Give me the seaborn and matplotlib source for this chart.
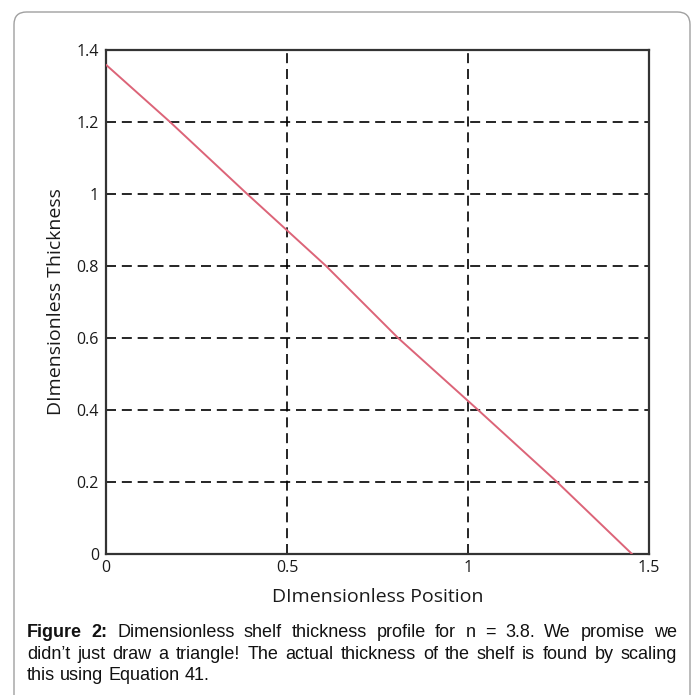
import matplotlib
matplotlib.use("Agg")
import matplotlib.pyplot as plt
import seaborn as sns
import pandas as pd
from matplotlib.patches import FancyBboxPatch

# ---- data ----
position = [0.0, 0.177, 0.39, 0.608, 0.807, 1.028, 1.246, 1.453]
thickness = [1.359, 1.2, 1.0, 0.8, 0.6, 0.4, 0.2, 0.0]
x_ticks = [0, 0.5, 1, 1.5]
x_tick_labels = ["0", "0.5", "1", "1.5"]
y_ticks = [0, 0.2, 0.4, 0.6, 0.8, 1.0, 1.2, 1.4]
y_tick_labels = ["0", "0.2", "0.4", "0.6", "0.8", "1", "1.2", "1.4"]
x_label = "DImensionless Position"
y_label = "DImensionless Thickness"
caption_lines = [
    "Figure 2: Dimensionless shelf thickness profile for n = 3.8. We promise we",
    "didn\u2019t just draw a triangle! The actual thickness of the shelf is found by scaling",
    "this using Equation 41.",
]

df = pd.DataFrame({"pos": position, "thick": thickness})

sns.set_style("white")
W, H = 699, 695
fig = plt.figure(figsize=(W / 100, H / 100), dpi=100)
fig.patch.set_facecolor("white")

# outer rounded frame
frame = FancyBboxPatch((14 / W, -20 / H), (690 - 14) / W, (H - 12 + 20) / H,
                       boxstyle="round,pad=0,rounding_size=0.018",
                       transform=fig.transFigure, facecolor="none",
                       edgecolor="#a0a0a0", linewidth=1.0, zorder=-1)
fig.patches.append(frame)

ax = fig.add_axes([106 / W, (H - 554) / H, 543 / W, 504 / H])
ax.set_facecolor("white")
sns.lineplot(data=df, x="pos", y="thick", ax=ax, color="#dc6478", linewidth=1.4, zorder=3)

ax.set_xlim(0, 1.5)
ax.set_ylim(0, 1.4)
ax.set_xticks(x_ticks)
ax.set_xticklabels(x_tick_labels)
ax.set_yticks(y_ticks)
ax.set_yticklabels(y_tick_labels)
for lab in ax.get_xticklabels() + ax.get_yticklabels():
    lab.set_fontfamily("Open Sans")
    lab.set_fontsize(11.5)
    lab.set_color("#1a1a1a")
ax.tick_params(axis="x", length=0, pad=4)
ax.tick_params(axis="y", length=0, pad=5)
ax.set_xlabel(x_label, fontfamily="Open Sans", fontsize=14, color="#1a1a1a")
ax.set_ylabel(y_label, fontfamily="Open Sans", fontsize=14, color="#1a1a1a")
ax.xaxis.set_label_coords(0.5, (554 - 597) / 504)
ax.xaxis.label.set_va("center")
ax.yaxis.set_label_coords((56 - 106) / 543, 0.5)
ax.yaxis.label.set_va("center")

for s in ax.spines.values():
    s.set_color("#333333")
    s.set_linewidth(1.6)
    s.set_visible(True)

# dashed grid (interior only)
for xv in [0.5, 1.0]:
    ax.axvline(xv, color="black", linestyle=(0, (6, 3.5)), linewidth=1.2, zorder=1)
for yv in [0.2, 0.4, 0.6, 0.8, 1.0, 1.2]:
    ax.axhline(yv, color="black", linestyle=(0, (6, 3.5)), linewidth=1.2, zorder=1)

# caption, justified
renderer = fig.canvas.get_renderer()
cap_family = ["Liberation Sans"]
cap_size = 13.0
left_px, right_px = 27, 677
line_base = [637, 659, 680]
for li, line in enumerate(caption_lines):
    words = line.split(" ")
    texts = []
    for wi, w in enumerate(words):
        bold = (li == 0 and wi < 2)
        t = fig.text(0, 0, w, fontsize=cap_size, family=cap_family,
                     fontweight="bold" if bold else "normal", color="#111111",
                     va="baseline", ha="left", transform=None)
        texts.append(t)
    widths = [t.get_window_extent(renderer).width for t in texts]
    if li < len(caption_lines) - 1:
        gap = ((right_px - left_px) - sum(widths)) / (len(words) - 1)
    else:
        sp = fig.text(0, 0, "a b", fontsize=cap_size, family=cap_family)
        sp2 = fig.text(0, 0, "ab", fontsize=cap_size, family=cap_family)
        gap = sp.get_window_extent(renderer).width - sp2.get_window_extent(renderer).width
        sp.remove(); sp2.remove()
    x = left_px
    for t, w in zip(texts, widths):
        t.set_position((x, H - line_base[li]))
        x += w + gap

fig.savefig("out.png", dpi=100, facecolor="white")
